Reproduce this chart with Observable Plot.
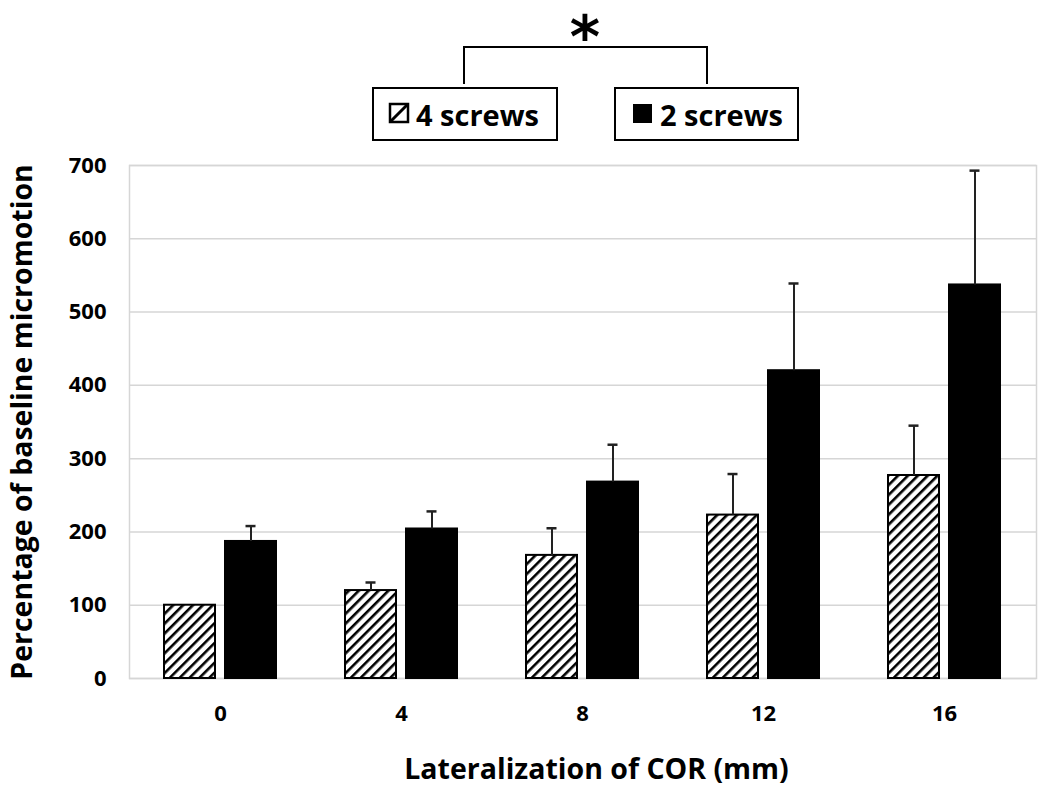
<!DOCTYPE html>
<html><head><meta charset="utf-8">
<script src="https://cdn.jsdelivr.net/npm/d3@7"></script>
<script src="https://cdn.jsdelivr.net/npm/@observablehq/plot@0.6"></script>
<style>
body{margin:0;background:#fff;}
#wrap{position:relative;width:1050px;height:795px;}
#wrap svg{position:absolute;left:0;top:0;}
</style></head><body><div id="wrap"></div>
<script>
const categories = [0, 4, 8, 12, 16];
const series = ["4 screws", "2 screws"];
const fourScrews = [100, 120, 168, 223, 277];
const fourScrewsSD = [0, 11, 37, 56, 68];
const twoScrews = [187, 204, 268, 420, 537];
const twoScrewsSD = [21, 24, 51, 119, 156];
const yTicks = [0, 100, 200, 300, 400, 500, 600, 700];
const xTitle = "Lateralization of COR (mm)";
const yTitle = "Percentage of baseline micromotion";

const data = [];
categories.forEach((c, i) => {
  data.push({cat: c, series: series[0], value: fourScrews[i], sd: fourScrewsSD[i]});
  data.push({cat: c, series: series[1], value: twoScrews[i], sd: twoScrewsSD[i]});
});
const errs = data.filter(d => d.sd > 0);

const W = 1050, H = 795;
const margins = {marginLeft: 129, marginRight: 14, marginTop: 165, marginBottom: 117};
const font = "'Open Sans', sans-serif";
const style = {fontFamily: font, fontWeight: 700, fontSize: "22px", color: "#000", background: "transparent", overflow: "visible"};

const bg = Plot.plot({
  width: W, height: H, ...margins, style,
  y: {domain: [0, 700]},
  marks: [
    Plot.gridY(yTicks, {stroke: "#d6d6d6", strokeOpacity: 1, strokeWidth: 1.5}),
    Plot.frame({stroke: "#d6d6d6", strokeWidth: 1.5}),
    Plot.axisY(yTicks, {tickSize: 0, tickPadding: 23, fontSize: 22, label: yTitle, labelAnchor: "center", labelOffset: 118, labelArrow: "none"})
  ]
});

const fg = Plot.plot({
  width: W, height: H, ...margins, style,
  fx: {domain: categories, paddingInner: 0.37, paddingOuter: 0.185},
  x: {domain: series, paddingInner: 0.161, paddingOuter: 0, axis: null},
  y: {domain: [0, 700], axis: null},
  marks: [
    Plot.barY(data.filter(d => d.series === series[0]), {fx: "cat", x: "series", y: "value", fill: "url(#hatch)", stroke: "#000", strokeWidth: 2}),
    Plot.barY(data.filter(d => d.series === series[1]), {fx: "cat", x: "series", y: "value", fill: "#000", stroke: "#000", strokeWidth: 2}),
    Plot.ruleX(errs, {fx: "cat", x: "series", y1: "value", y2: d => d.value + d.sd, stroke: "#222", strokeWidth: 2}),
    Plot.tickY(errs, {fx: "cat", x: "series", y: d => d.value + d.sd, stroke: "#222", strokeWidth: 2.5, insetLeft: 20.5, insetRight: 20.5}),
    Plot.axisFx({anchor: "bottom", tickSize: 0, tickPadding: 27, fontSize: 22, label: xTitle, labelAnchor: "center", labelOffset: 100, labelArrow: "none"})
  ]
});

const wrap = document.getElementById("wrap");
wrap.appendChild(bg);
wrap.appendChild(fg);

// style axis titles
d3.selectAll('[aria-label="y-axis label"], [aria-label="fx-axis label"]')
  .attr("font-size", 28.5).style("font-size", "28.5px");
d3.selectAll('[aria-label="y-axis label"] text, [aria-label="fx-axis label"] text')
  .attr("font-size", 28.5).style("font-size", "28.5px");
d3.selectAll('[aria-label="fx-axis label"] text').attr("dx", 14);

// hatch pattern
const svg = d3.select(fg);
const defs = svg.insert("defs", ":first-child");
const pat = defs.append("pattern").attr("id", "hatch").attr("patternUnits", "userSpaceOnUse")
  .attr("width", 7).attr("height", 7).attr("patternTransform", "rotate(45)");
pat.append("rect").attr("width", 7).attr("height", 7).attr("fill", "#fff");
pat.append("rect").attr("width", 2.6).attr("height", 7).attr("fill", "#000");

// legend + significance bracket
const g = svg.append("g").attr("font-family", font).attr("font-weight", 700).attr("text-anchor", "start");
g.append("path").attr("d", "M464,84V47H707V84").attr("fill", "none").attr("stroke", "#000").attr("stroke-width", 2);
g.append("text").attr("x", 585).attr("y", 57).attr("text-anchor", "middle")
  .attr("font-family", "'DejaVu Sans', sans-serif").attr("font-size", 58).text("*");
g.append("rect").attr("x", 373).attr("y", 88).attr("width", 184).attr("height", 52).attr("fill", "#fff").attr("stroke", "#000").attr("stroke-width", 2);
g.append("rect").attr("x", 390).attr("y", 104).attr("width", 18).attr("height", 18).attr("fill", "#fff").attr("stroke", "#000").attr("stroke-width", 2.5);
g.append("path").attr("d", "M390,122L408,104").attr("stroke", "#000").attr("stroke-width", 3);
g.append("text").attr("x", 416).attr("y", 126).attr("font-size", 29).attr("text-anchor", "start").text(series[0]);
g.append("rect").attr("x", 615).attr("y", 88).attr("width", 183).attr("height", 52).attr("fill", "#fff").attr("stroke", "#000").attr("stroke-width", 2);
g.append("rect").attr("x", 633).attr("y", 104).attr("width", 19).attr("height", 19).attr("fill", "#000");
g.append("text").attr("x", 660).attr("y", 126).attr("font-size", 29).attr("text-anchor", "start").text(series[1]);
</script></body></html>
